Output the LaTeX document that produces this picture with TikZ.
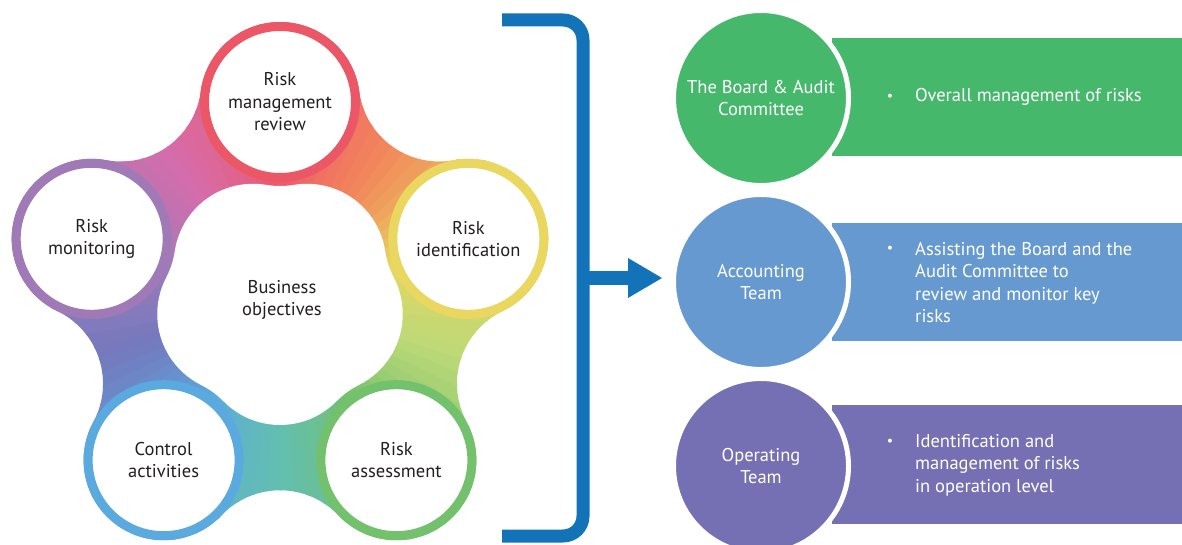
\documentclass[tikz,border=0pt]{standalone}
\usepackage{fontspec}
\setmainfont{PT Sans}
\usetikzlibrary{calc}

% colours around the cycle (every 36 degrees, starting at the top)
\definecolor{k0}{HTML}{EC5A6B}
\definecolor{k1}{HTML}{D66CAA}
\definecolor{k2}{HTML}{A27BB8}
\definecolor{k3}{HTML}{7479BD}
\definecolor{k4}{HTML}{5AA9DE}
\definecolor{k5}{HTML}{63BFB1}
\definecolor{k6}{HTML}{74C06E}
\definecolor{k7}{HTML}{BCD977}
\definecolor{k8}{HTML}{E8D762}
\definecolor{k9}{HTML}{F2885A}
\colorlet{k10}{k0}
% ring colours
\definecolor{ringTop}{HTML}{EC5768}
\definecolor{ringRight}{HTML}{E9D75F}
\definecolor{ringBR}{HTML}{73C06D}
\definecolor{ringBL}{HTML}{5AAAE0}
\definecolor{ringLeft}{HTML}{A07AB6}
\definecolor{txtdark}{HTML}{231F20}
\definecolor{bracketblue}{HTML}{1373B9}
\definecolor{teamgreen}{HTML}{45B86B}
\definecolor{teamblue}{HTML}{6699D0}
\definecolor{teampurple}{HTML}{7570B4}

\tikzset{
  ring/.style={circle, fill=white, line width=9pt, minimum size=151pt,
    inner sep=0pt, align=center, text=txtdark,
    font=\fontsize{18.5}{22.5}\selectfont},
  centretext/.style={align=center, text=txtdark, inner sep=0pt,
    font=\fontsize{18.5}{22.5}\selectfont},
  teamcircle/.style={circle, draw=white, line width=5pt, minimum size=175pt,
    inner sep=0pt, align=center, text=white,
    font=\fontsize{18.5}{22.5}\selectfont},
  bullettext/.style={anchor=west, inner sep=0pt, align=left, text=white,
    font=\fontsize{18.5}{22.5}\selectfont},
  bulletmark/.style={inner sep=0pt, text=white, font=\fontsize{14}{16}\selectfont},
  bracketline/.style={draw=bracketblue, line width=13pt},
}

\begin{document}
\begin{tikzpicture}[x=1pt,y=1pt]
\useasboundingbox (0,0) rectangle (1182,544);

\coordinate (O) at (280,244);

% ---------- coloured band joining the five stages ----------
\begin{scope}
  \clip ($(O)+(-79.31,208.45)$)
    \foreach \k in {0,...,4}{
      arc[start angle={352.49+72*\k}, end angle={259.51+72*\k}, radius=80.5]
      arc[start angle={79.51+72*\k}, end angle={244.49+72*\k}, radius=80]
    } -- cycle;
  \foreach \s in {0,...,9}{
    \pgfmathtruncatemacro{\sn}{\s+1}
    \foreach \j in {0,...,8}{
      \pgfmathsetmacro{\a}{90+36*\s+4*\j}
      \pgfmathsetmacro{\b}{\a+4.5}
      \pgfmathtruncatemacro{\p}{100-(\j+0.5)*100/9}
      \colorlet{wc}{k\s!\p!k\sn}
      \fill[wc] (O) -- ($(O)+(\a:300)$) -- ($(O)+(\b:300)$) -- cycle;
    }
  }
\end{scope}

% white centre area
\fill[white] ($(O)+(-13.89,115.16)$)
  \foreach \k in {0,...,4}{
    arc[start angle={80.49+72*\k}, end angle={171.51+72*\k}, radius=79.14]
    arc[start angle={351.51+72*\k}, end angle={332.49+72*\k}, radius=84]
  } -- cycle;

\node[centretext] (biz) at ($(O)+(2,0)$) {Business\\objectives};

% ---------- the five stages ----------
\node[ring, draw=ringTop]   (review)   at ($(O)+(90:198)$)  {Risk\\management\\review};
\node[ring, draw=ringRight] (ident)    at ($(O)+(18:198)$)  {Risk\\identification};
\node[ring, draw=ringBR]    (assess)   at ($(O)+(-54:198)$) {Risk\\assessment};
\node[ring, draw=ringBL]    (control)  at ($(O)+(234:198)$) {Control\\activities};
\node[ring, draw=ringLeft]  (monitor)  at ($(O)+(162:198)$) {Risk\\monitoring};

% ---------- bracket and arrow ----------
\coordinate (brTop) at (502,524);
\coordinate (brBot) at (502,8);
\coordinate (brMid) at (583,266);
\coordinate (arBase) at (630,266);
\coordinate (arTip) at (662,266);
\draw[bracketline] (brTop) -- (563,524) arc[start angle=90, end angle=0, radius=20]
  -- (583,28) arc[start angle=0, end angle=-90, radius=20] -- (brBot);
\draw[bracketline] (brMid) -- (arBase);
\fill[bracketblue] ($(arBase)+(-2,20)$) -- (arTip) -- ($(arBase)+(-2,-20)$) -- cycle;

% ---------- responsibilities ----------
\fill[teamgreen]  (832,388) rectangle (1182,506);
\fill[teamblue]   (832,203) rectangle (1182,321);
\fill[teampurple] (832,20)  rectangle (1182,139);

\node[teamcircle, fill=teamgreen]  (board) at (761,446) {The Board \& Audit\\Committee};
\node[teamcircle, fill=teamblue]   (acct)  at (761,262) {Accounting\\Team};
\node[teamcircle, fill=teampurple] (oper)  at (761,78)  {Operating\\Team};

\node[bulletmark] (b1) at (890,447) {\textbullet};
\node[bullettext] (t1) at (915,447) {Overall management of risks};

\node[bulletmark] (b2) at (890,295) {\textbullet};
\node[bullettext] (t2) at (915,261.5) {Assisting the Board and the\\Audit Committee to\\review and monitor key\\risks};

\node[bulletmark] (b3) at (890,102) {\textbullet};
\node[bullettext] (t3) at (915,79) {Identification and\\management of risks\\in operation level};

\end{tikzpicture}
\end{document}
